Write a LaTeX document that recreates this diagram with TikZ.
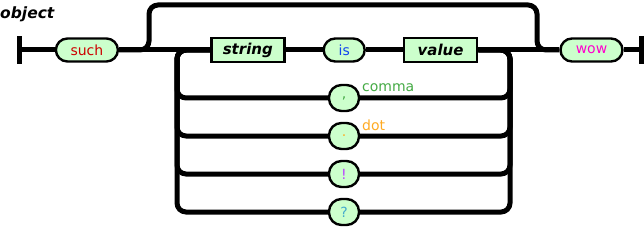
\documentclass[tikz,border=0pt]{standalone}
\usepackage{fontspec}
\setmainfont{DejaVu Sans}
\usetikzlibrary{positioning}
\usepackage{xcolor}
\definecolor{termfill}{HTML}{CCFFCC}
\definecolor{suchred}{HTML}{CC0000}
\definecolor{isblue}{HTML}{1144EE}
\definecolor{wowpink}{HTML}{FF00CC}
\definecolor{commagreen}{HTML}{44AA44}
\definecolor{dotorange}{HTML}{FFAA22}
\definecolor{bangpurple}{HTML}{BB44FF}
\definecolor{questteal}{HTML}{44AACC}
\tikzset{
  term/.style ={rectangle, rounded corners=11.5pt, draw=black, fill=termfill,
                line width=2.4pt, minimum height=23pt, minimum width=62pt,
                inner sep=0pt, font=\fontsize{14}{14}\selectfont},
  nterm/.style={rectangle, draw=black, fill=termfill, line width=2.4pt,
                minimum height=24pt, minimum width=73pt, inner sep=0pt,
                font=\fontsize{15}{15}\selectfont\bfseries\itshape},
  sepr/.style ={rectangle, rounded corners=12.5pt, draw=black, fill=termfill,
                line width=2.4pt, minimum height=26pt, minimum width=30pt,
                inner sep=0pt, font=\fontsize{14}{14}\selectfont},
  bar/.style  ={rectangle, fill=black, minimum width=5pt, minimum height=28pt, inner sep=0pt},
  lbl/.style  ={anchor=west, inner sep=0pt, font=\fontsize{14}{14}\selectfont},
  rail/.style ={line width=5pt},
  loop/.style ={rail, rounded corners=9pt},
}
\begin{document}
\begin{tikzpicture}[x=1pt, y=-1pt]
  \useasboundingbox (0,0) rectangle (644,227);
  \node[anchor=west, inner sep=0pt, font=\fontsize{15.5}{15.5}\selectfont\bfseries\itshape] (title) at (0,14) {object};
  % main track
  \node[bar] (start) at (19,50) {};
  \node[term, right=33pt of start, text=suchred] (such) {such};
  \node[nterm, right=91pt of such] (string) {string};
  \node[term, right=37pt of string, minimum width=41pt, text=isblue] (is) {is};
  \node[nterm, right=37pt of is] (value) {value};
  \node[term, right=81pt of value, text=wowpink] (wow) {wow};
  \node[bar, right=15.5pt of wow] (stop) {};
  % separators
  \node[sepr, text=commagreen] (comma) at (344,98) {,};
  \node[sepr, text=dotorange] (dot) at (344,136) {.};
  \node[sepr, text=bangpurple] (bang) at (344,174) {!};
  \node[sepr, text=questteal] (quest) at (344,212) {?};
  \node[lbl, text=commagreen] (commalbl) at (362,88) {comma};
  \node[lbl, text=dotorange] (dotlbl) at (362,125) {dot};
  \coordinate (byin) at (149,50);
  \coordinate (byout) at (537,50);
  \coordinate (lpin) at (177,50);
  \coordinate (lpout) at (510,50);
  \draw[rail] (start) -- (such);
  \draw[rail] (such) -- (string);
  \draw[rail] (string) -- (is);
  \draw[rail] (is) -- (value);
  \draw[rail] (value) -- (wow);
  \draw[rail] (wow) -- (stop);
  \draw[loop] (such.east) -- (byin) -- ++(0,-45) -| (byout) -- (wow.west);
  \foreach \s in {comma, dot, bang, quest} {
    \draw[loop] (value.east) -- (lpout) |- (\s.east);
    \draw[loop] (\s.west) -| (lpin) -- (string.west);
  }
\end{tikzpicture}
\end{document}
